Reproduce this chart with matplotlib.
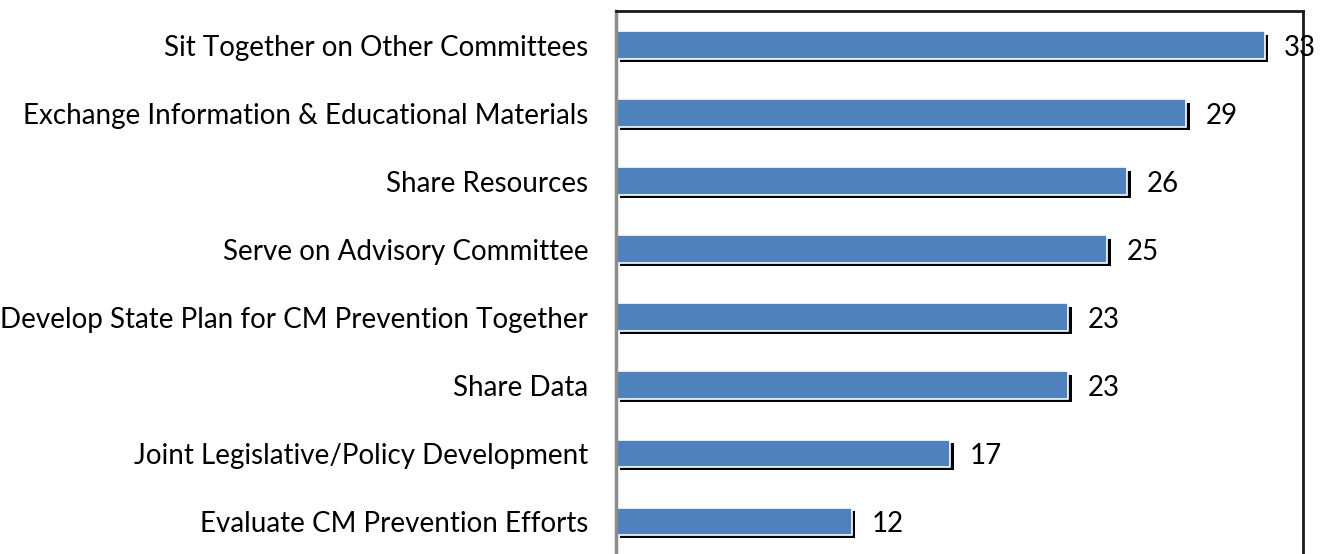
import matplotlib
matplotlib.use('Agg')
import matplotlib.pyplot as plt
import matplotlib.patheffects as pe

### Collaboration activities and number of states
activities = ['Sit Together on Other Committees',
              'Exchange Information & Educational Materials',
              'Share Resources',
              'Serve on Advisory Committee',
              'Develop State Plan for CM Prevention Together',
              'Share Data',
              'Joint Legislative/Policy Development',
              'Evaluate CM Prevention Efforts']
counts = [33, 29, 26, 25, 23, 23, 17, 12]

plt.rcParams['font.family'] = ['Lato', 'DejaVu Sans']

fig = plt.figure(figsize=(13.2, 5.54), dpi=100)
ax = fig.add_axes([0.4667, -0.002, 0.5203, 0.982])

ypos = list(range(len(activities)))
bars = ax.barh(ypos, counts, height=0.4, color='#4F81BD',
               edgecolor='white', linewidth=1.2)
for b in bars:
    b.set_path_effects([pe.SimplePatchShadow(offset=(2.6, -2.6), shadow_rgbFace='black',
                                             alpha=1.0), pe.Normal()])

for y, v in zip(ypos, counts):
    ax.text(v + 1.0, y, str(v), va='center_baseline', ha='left', fontsize=20, color='black')

ax.set_xlim(0, 34.95)
ax.set_ylim(len(activities) - 0.5, -0.5)
ax.set_yticks(ypos)
ax.set_yticklabels(activities, fontsize=20, va='center_baseline')
ax.tick_params(axis='y', length=0, pad=20)
ax.set_xticks([])

ax.spines['bottom'].set_visible(False)
ax.spines['left'].set_color('#8C8C8C')
ax.spines['left'].set_linewidth(2.5)
ax.spines['top'].set_color('#1a1a1a')
ax.spines['top'].set_linewidth(2)
ax.spines['right'].set_color('#1a1a1a')
ax.spines['right'].set_linewidth(2)

fig.savefig('out.png', dpi=100)
